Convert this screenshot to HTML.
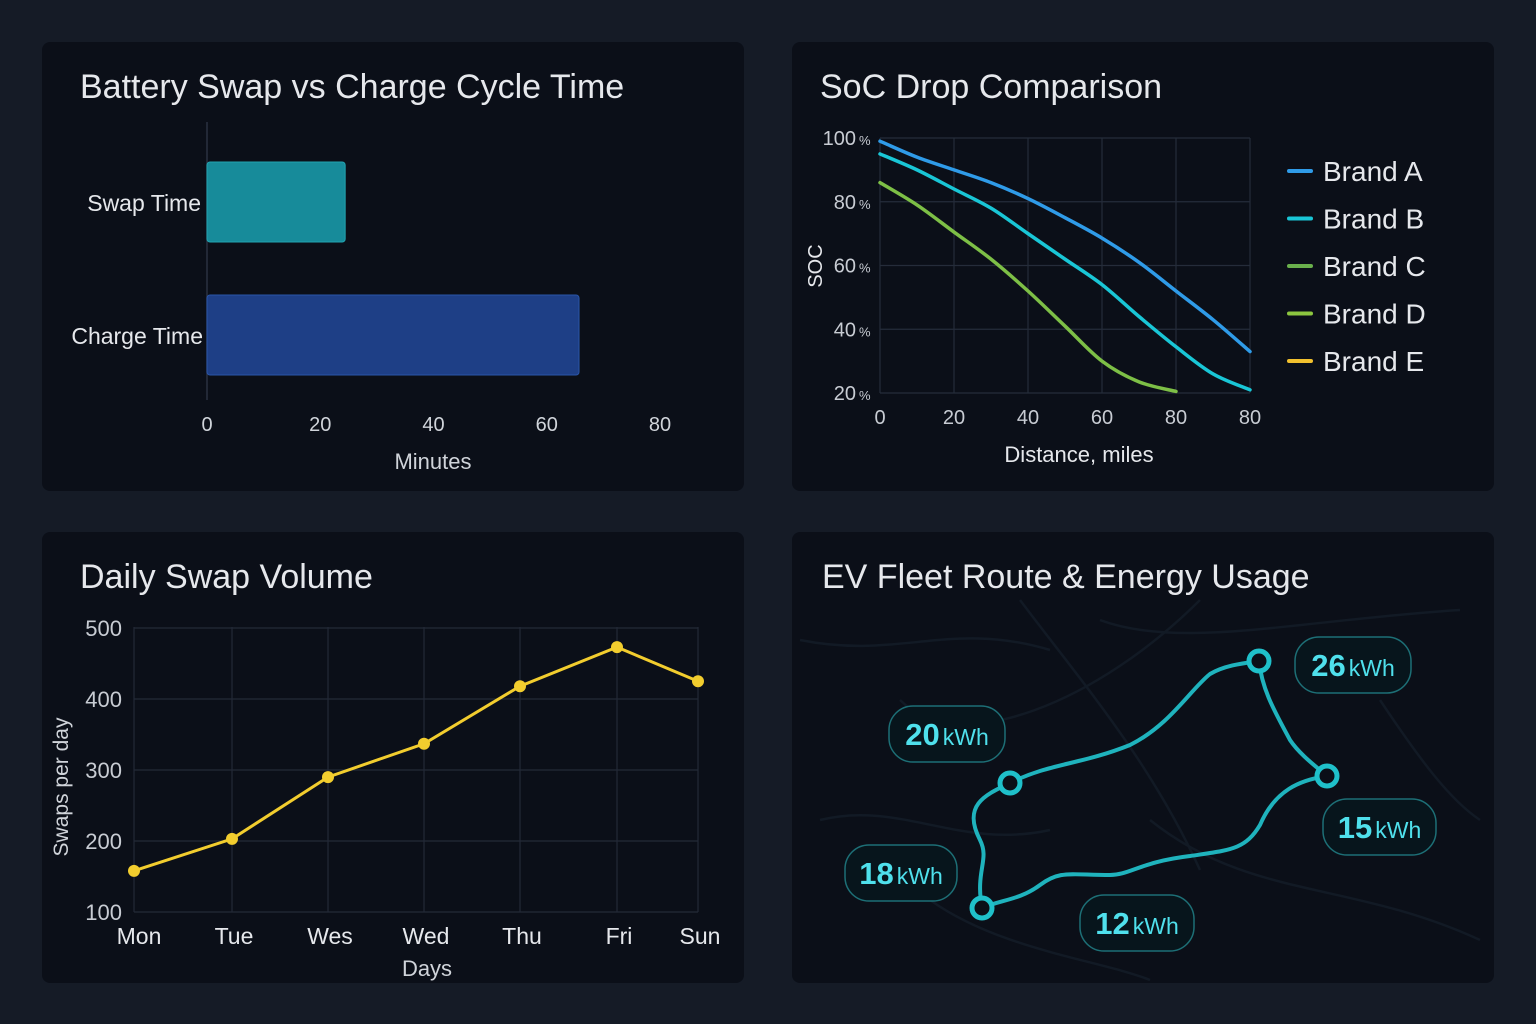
<!DOCTYPE html>
<html><head><meta charset="utf-8"><style>
body{margin:0;background:#151b26;width:1536px;height:1024px;overflow:hidden;font-family:"Liberation Sans",sans-serif;}
.panel{position:absolute;background:#0b0f18;border-radius:8px;}
svg{position:absolute;left:0;top:0}
</style></head><body>
<div class="panel" style="left:42px;top:42px;width:702px;height:449px"></div>
<div class="panel" style="left:792px;top:42px;width:702px;height:449px"></div>
<div class="panel" style="left:42px;top:532px;width:702px;height:451px"></div>
<div class="panel" style="left:792px;top:532px;width:702px;height:451px"></div>
<svg id="s" width="1536" height="1024">
<g font-size="34" fill="#e6e8ec">
<text x="80" y="98">Battery Swap vs Charge Cycle Time</text>
<text x="820" y="98">SoC Drop Comparison</text>
<text x="80" y="588">Daily Swap Volume</text>
<text x="822" y="588">EV Fleet Route &amp; Energy Usage</text>
</g>
<g id="c1"></g><g id="c2"></g><g id="c3"></g><g id="c4"></g>
</svg>
<script>
const NS="http://www.w3.org/2000/svg";
function mk(p,t,a,txt){const e=document.createElementNS(NS,t);for(const k in a)e.setAttribute(k,a[k]);if(txt!==undefined)e.textContent=txt;p.appendChild(e);return e;}
/* chart 1 */
const barCats=["Swap Time","Charge Time"];
const barVals=[24.4,65.7];
const barTicks=[0,20,40,60,80];
/* chart 2 */
const socX=[0,10,20,30,40,50,60,70,80,90,100];
const socXTickVals=[0,20,40,60,80,100];
const socXTickLabels=["0","20","40","60","80","80"];
const socYTicks=[20,40,60,80,100];
const brandA=[99,94,90,86,81,75,68.6,61,52,43,33];
const brandB=[95,90,84,78,70,62,54,44,34.5,26,21];
const brandC=[86,79,70.5,62,52,41,30,23.5,20.5,null,null];
const brands=["Brand A","Brand B","Brand C","Brand D","Brand E"];
/* chart 3 */
const days=["Mon","Tue","Wes","Wed","Thu","Fri","Sun"];
const swaps=[158,203,290,337,418,473,425];
const swapTicks=[100,200,300,400,500];
/* chart 4 */
const energyLabels=["26","20","15","18","12"];

// chart 1
(function(){
const g=document.getElementById('c1');
const x=v=>207+v*(660-207)/80;
const ys=[202,335];
mk(g,'line',{x1:207,y1:122,x2:207,y2:400,stroke:'#2a3140','stroke-width':1.5});
barCats.forEach((c,i)=>{
 let r=mk(g,'rect',{x:207,y:ys[i]-40,width:x(barVals[i])-207,height:80,rx:3,fill:i?'#1e3f86':'#178b9a',stroke:i?'#2a55a8':'#22a3b0'});
 
 
 let t=mk(g,'text',{x:i?203:201,y:ys[i]+9,'text-anchor':'end','font-size':23,fill:'#e6e8ec'},c);
 
 
});
barTicks.forEach(v=>{let t=mk(g,'text',{x:x(v),y:431,'text-anchor':'middle','font-size':20,fill:'#d0d4da'},v);
 
 });
let xt=mk(g,'text',{x:433,y:469,'text-anchor':'middle','font-size':22,fill:'#d0d4da'},'Minutes');


})();

function smooth(pts){let d='M'+pts[0][0]+','+pts[0][1];
for(let i=0;i<pts.length-1;i++){const p0=pts[i-1]||pts[i],p1=pts[i],p2=pts[i+1],p3=pts[i+2]||p2;
d+=` C${p1[0]+(p2[0]-p0[0])/6},${p1[1]+(p2[1]-p0[1])/6} ${p2[0]-(p3[0]-p1[0])/6},${p2[1]-(p3[1]-p1[1])/6} ${p2[0]},${p2[1]}`;}return d;}

// chart 2
(function(){
const g=document.getElementById('c2');
const x=v=>880+v*3.7, y=v=>138+(100-v)*255/80;
socXTickVals.forEach((v,i)=>{mk(g,'line',{x1:x(v),y1:138,x2:x(v),y2:393,stroke:'#252c3a','stroke-width':1.2});
 let t=mk(g,'text',{x:x(v),y:424,'text-anchor':'middle','font-size':20,fill:'#c8ccd3'},socXTickLabels[i]);
 
 });
socYTicks.forEach(v=>{mk(g,'line',{x1:880,y1:y(v),x2:1250,y2:y(v),stroke:'#252c3a','stroke-width':1.2});
 let t=mk(g,'text',{x:856,y:y(v)+7,'text-anchor':'end','font-size':20,fill:'#c8ccd3'},v);
 
 
 mk(g,'text',{x:859,y:y(v)+7,'font-size':13,fill:'#c8ccd3'},'%');});
let yt=mk(g,'text',{transform:'translate(822,266) rotate(-90)','text-anchor':'middle','font-size':20,fill:'#e6e8ec'},'SOC');


let xt=mk(g,'text',{x:1079,y:462,'text-anchor':'middle','font-size':22,fill:'#e6e8ec'},'Distance, miles');


const series=[[brandA,'#2f9be8'],[brandB,'#19c6d6'],[brandC,'#7dbf46']];
series.forEach(([s,col],i)=>{const pts=[];s.forEach((v,j)=>{if(v!==null)pts.push([x(socX[j]),y(v)])});
 let p=mk(g,'path',{d:smooth(pts),fill:'none',stroke:col,'stroke-width':3.5,'stroke-linecap':'round'});
 
 });
const lc=['#2f9be8','#19c6d6','#6ab04c','#8cc63f','#f2c12e'];
brands.forEach((b,i)=>{const yy=171+i*47.5;
 mk(g,'line',{x1:1289,y1:yy,x2:1311,y2:yy,stroke:lc[i],'stroke-width':4,'stroke-linecap':'round'});
 let t=mk(g,'text',{x:1323,y:yy+10,'font-size':28,fill:'#e6e8ec'},b);
 
 });
})();

// chart 3
(function(){
const g=document.getElementById('c3');
const xs=i=>[134,232,328,424,520,617,698][i];
const y=v=>912-(v-100)*284/400;
swapTicks.forEach(v=>{mk(g,'line',{x1:134,y1:y(v),x2:698,y2:y(v),stroke:'#232a37','stroke-width':1.2});
 let t=mk(g,'text',{x:122,y:y(v)+8,'text-anchor':'end','font-size':22,fill:'#c8ccd3'},v);
 
 });
days.forEach((d,i)=>{mk(g,'line',{x1:xs(i),y1:627,x2:xs(i),y2:912,stroke:'#232a37','stroke-width':1.2});
 let t=mk(g,'text',{x:xs(i)+(i==0?5:2),y:944,'text-anchor':'middle','font-size':23,fill:'#e6e8ec'},d);
 
 });
let xt=mk(g,'text',{x:427,y:976,'text-anchor':'middle','font-size':22,fill:'#d0d4da'},'Days');


let yt=mk(g,'text',{transform:'translate(68,787) rotate(-90)','text-anchor':'middle','font-size':21,fill:'#d0d4da'},'Swaps per day');


let p=mk(g,'polyline',{points:swaps.map((v,i)=>xs(i)+','+y(v)).join(' '),fill:'none',stroke:'#f2cd2e','stroke-width':3});


swaps.forEach((v,i)=>{let c=mk(g,'circle',{cx:xs(i),cy:y(v),r:6,fill:'#f2cd2e'});
 
 });
})();

// chart 4
(function(){
const g=document.getElementById('c4');
const roads=["M800,640 C900,660 950,620 1050,650","M900,700 C960,760 1100,700 1200,600","M1020,600 C1080,680 1150,760 1200,870","M1100,620 C1180,650 1300,620 1460,610","M820,820 C900,800 960,850 1050,830","M1150,820 C1250,900 1350,880 1480,940","M1380,700 C1420,760 1450,800 1480,820","M930,900 C1000,950 1100,960 1150,980"];
roads.forEach(d=>mk(g,'path',{d:d,fill:'none',stroke:'#121a25','stroke-width':2.5}));
let r=mk(g,'path',{d:"M982,908 C975,870 990,860 980,840 C962,805 985,795 1010,783 C1050,763 1080,765 1130,745 C1170,725 1190,690 1210,674 C1225,665 1245,663 1259,661 C1262,690 1275,712 1290,740 C1300,755 1318,768 1327,776 C1300,780 1275,790 1260,825 C1245,850 1230,850 1190,856 C1140,862 1130,875 1110,875 C1070,875 1060,870 1040,885 C1020,900 1000,900 982,908",fill:'none',stroke:'#1fb3bd','stroke-width':4});


[[1010,783],[1259,661],[1327,776],[982,908]].forEach(p=>{let c=mk(g,'circle',{cx:p[0],cy:p[1],r:10,fill:'#0b0f18',stroke:'#1fc0ca','stroke-width':5});
 
 });
const boxes=[[1295,637,116],[889,706,116],[1323,799,113],[845,845,112],[1080,895,114]];
boxes.forEach((b,i)=>{mk(g,'rect',{x:b[0],y:b[1],width:b[2],height:56,rx:24,fill:'#07151c',stroke:'#1d6f76','stroke-width':1.5});
 let t=mk(g,'text',{x:b[0]+b[2]/2,y:b[1]+39,'text-anchor':'middle',fill:'#4fe0ec'});
 
 
 mk(t,'tspan',{'font-size':31,'font-weight':'bold'},energyLabels[i]);
 mk(t,'tspan',{'font-size':23,dx:3},'kWh');});
})();
</script>
</body></html>
